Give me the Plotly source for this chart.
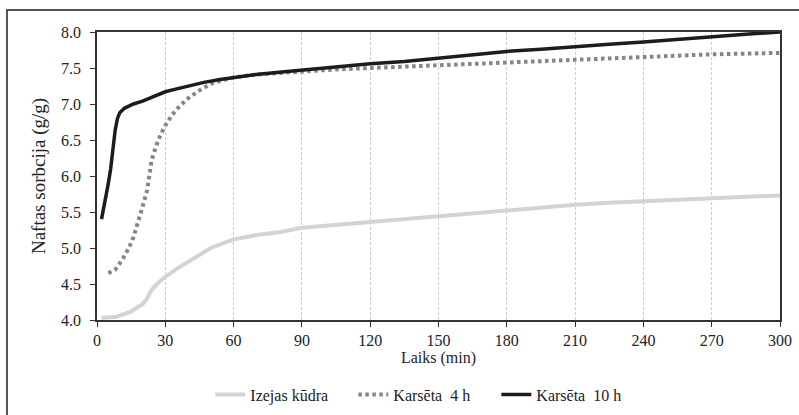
import plotly.graph_objects as go

# Izejas kūdra
t_raw = [2, 5, 8, 10, 12, 15, 18, 20, 22, 24, 27, 30, 35, 40, 45, 50, 55, 60, 70, 80, 90,
         105, 120, 135, 150, 165, 180, 195, 210, 225, 240, 255, 270, 285, 300]
v_raw = [4.03, 4.03, 4.04, 4.06, 4.08, 4.12, 4.18, 4.22, 4.30, 4.42, 4.52, 4.60, 4.71, 4.81,
         4.91, 5.00, 5.06, 5.12, 5.18, 5.22, 5.28, 5.32, 5.37, 5.41, 5.45, 5.49, 5.53, 5.57,
         5.60, 5.63, 5.65, 5.68, 5.70, 5.72, 5.73]

# Karsēta 4 h
t_4h = [5, 8, 11, 14, 16, 18, 20, 22, 24, 26, 28, 30, 33, 36, 40, 45, 50, 55, 60, 70, 80, 90,
        105, 120, 135, 150, 180, 210, 240, 270, 300]
v_4h = [4.65, 4.70, 4.83, 5.00, 5.15, 5.35, 5.57, 5.80, 6.22, 6.42, 6.58, 6.70, 6.85, 6.96,
        7.08, 7.19, 7.28, 7.33, 7.37, 7.41, 7.43, 7.46, 7.48, 7.50, 7.52, 7.54, 7.57, 7.62,
        7.65, 7.69, 7.71]

# Karsēta 10 h
t_10h = [2, 3, 4, 5, 6, 7, 8, 9, 10, 12, 14, 16, 20, 25, 30, 35, 40, 47, 54, 60, 70, 80, 90,
         105, 120, 135, 150, 165, 180, 195, 210, 225, 240, 255, 270, 285, 300]
v_10h = [5.40, 5.55, 5.70, 5.90, 6.10, 6.40, 6.64, 6.80, 6.88, 6.94, 6.97, 7.00, 7.04, 7.11,
         7.17, 7.21, 7.25, 7.30, 7.34, 7.37, 7.41, 7.44, 7.47, 7.51, 7.56, 7.59, 7.64, 7.69,
         7.73, 7.76, 7.80, 7.83, 7.86, 7.90, 7.94, 7.97, 8.00]

names = ["Izejas kūdra", "Karsēta  4 h", "Karsēta  10 h"]
x_ticks = [0, 30, 60, 90, 120, 150, 180, 210, 240, 270, 300]
y_ticks = [4.0, 4.5, 5.0, 5.5, 6.0, 6.5, 7.0, 7.5, 8.0]

FONT = "Liberation Serif"

fig = go.Figure()
fig.add_trace(go.Scatter(x=t_raw, y=v_raw, mode="lines", name=names[0],
                         line=dict(color="#d3d3d3", width=4)))
fig.add_trace(go.Scatter(x=t_4h, y=v_4h, mode="lines", name=names[1],
                         line=dict(color="#858585", width=4, dash="3.5px,3.5px")))
fig.add_trace(go.Scatter(x=t_10h, y=v_10h, mode="lines", name=names[2],
                         line=dict(color="#1c1c1c", width=3.5)))

fig.update_layout(
    width=799, height=415,
    margin=dict(l=97, r=19, t=32, b=95, autoexpand=False),
    paper_bgcolor="white", plot_bgcolor="white",
    font=dict(family=FONT, size=16, color="#222"),
    showlegend=True,
    legend=dict(orientation="h", x=0.48, xanchor="center", y=-0.2, yanchor="top",
                font=dict(family=FONT, size=16, color="#222"), itemwidth=30,
                entrywidth=98, entrywidthmode="pixels", tracegroupgap=0),
    xaxis=dict(range=[0, 300], tickvals=x_ticks, ticks="outside", ticklen=5,
               tickcolor="#333", showline=True, linecolor="#333", linewidth=1.5,
               mirror=True, showgrid=True, gridcolor="#cccccc", griddash="3px,2px",
               gridwidth=1, zeroline=False,
               title=dict(text="Laiks (min)", font=dict(family=FONT, size=16), standoff=3),
               tickfont=dict(family=FONT, size=16)),
    yaxis=dict(range=[4.0, 8.0], tickvals=y_ticks, tickformat=".1f", ticks="outside",
               ticklen=5, tickcolor="#333", showline=True, linecolor="#333",
               linewidth=1.5, mirror=True, showgrid=False, zeroline=False,
               ticklabelstandoff=6,
               title=dict(text="Naftas sorbcija (g/g)",
                          font=dict(family=FONT, size=19), standoff=10),
               tickfont=dict(family=FONT, size=16)),
    shapes=[dict(type="rect", xref="paper", yref="paper",
                 x0=-0.1318, x1=1.06, y0=-0.40, y1=1.0764,
                 line=dict(color="#555", width=2), fillcolor="rgba(0,0,0,0)",
                 layer="below")],
)

fig.write_html("out.html")
